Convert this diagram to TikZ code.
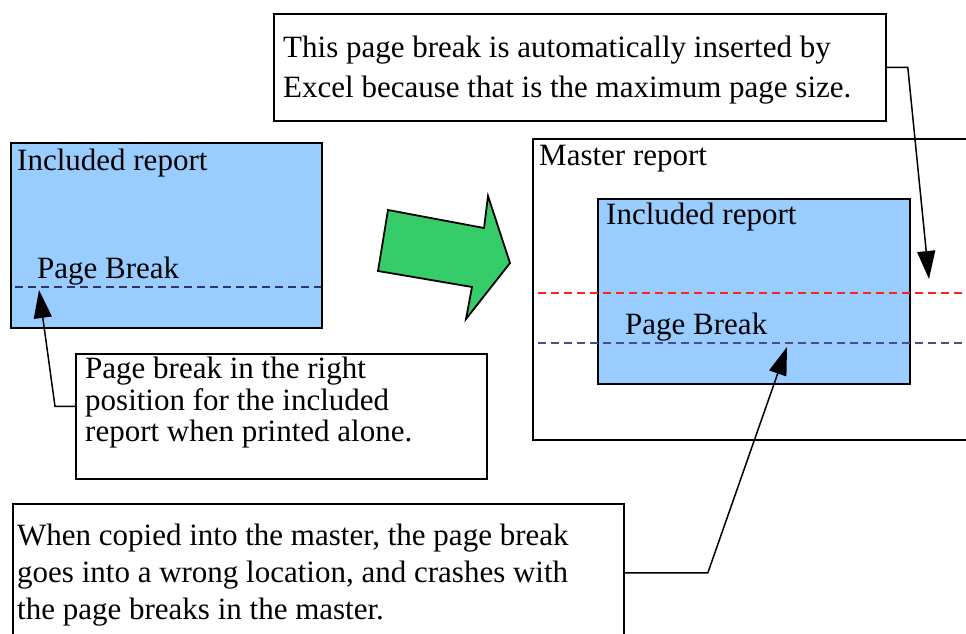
\documentclass[tikz,border=0pt]{standalone}
\usepackage{fontspec}
\setmainfont{Liberation Serif}
\usepackage{xcolor}
\usetikzlibrary{arrows.meta}
\definecolor{repblue}{HTML}{99CCFF}
\definecolor{arrowgreen}{HTML}{35CC69}
\definecolor{breakdark}{HTML}{333366}
\definecolor{breakmid}{HTML}{4C4C88}
\definecolor{breakred}{HTML}{FF2020}

\begin{document}
\begin{tikzpicture}[x=1pt,y=-1pt,
  box/.style={draw,line width=1.8pt,anchor=north west,inner sep=0pt},
  report/.style={box,fill=repblue},
  note/.style={box,fill=white},
  txt/.style={inner sep=0pt,font=\fontsize{31}{36}\selectfont},
  para/.style={txt,anchor=north west,align=left},
  pagebreak/.style={line width=1.8pt,dash pattern=on 8pt off 5pt},
  pointer/.style={line width=1.5pt,-{Triangle[length=28pt,width=18pt]}}]
  \useasboundingbox (0,0) rectangle (966,634);
  \clip (0,0) rectangle (966,634);

  \node[note,minimum width=612pt,minimum height=107pt] (note1) at (273,13) {};
  \node[para,font=\fontsize{31}{40}\selectfont] (text1) at (283,35.8)
    {This page break is automatically inserted by\\Excel because that is the maximum page size.};

  \node[report,minimum width=311pt,minimum height=185pt] (report1) at (10,142) {};
  \node[txt,anchor=base west] (title1) at (17,170) {Included report};
  \coordinate (break1a) at (15,287);
  \coordinate (break1b) at (321,287);
  \draw[pagebreak,breakdark] (break1a) -- (break1b);
  \node[txt,anchor=base west] (label1) at (37,278) {Page Break};

  \node[note,minimum width=411pt,minimum height=125pt] (note2) at (75,353) {};
  \node[para,font=\fontsize{31}{31.5}\selectfont] (text2) at (85,356.8)
    {Page break in the right\\position for the included\\report when printed alone.};

  \draw[line width=1.8pt,fill=arrowgreen] (388,210) -- (484,228) -- (488,196)
    -- (510,263) -- (466,319) -- (472,287) -- (378,271) -- cycle;

  \node[box,minimum width=500pt,minimum height=301pt] (master) at (532,138) {};
  \node[txt,anchor=base west] (title3) at (539,165) {Master report};
  \node[report,minimum width=312pt,minimum height=185pt] (report2) at (597,198) {};
  \node[txt,anchor=base west] (title2) at (606,224) {Included report};
  \coordinate (break2a) at (538,293);
  \coordinate (break2b) at (1000,293);
  \coordinate (break3a) at (538,343);
  \coordinate (break3b) at (1000,343);
  \draw[pagebreak,breakred] (break2a) -- (break2b);
  \draw[pagebreak,breakmid] (break3a) -- (break3b);
  \node[txt,anchor=base west] (label2) at (625,334) {Page Break};

  \node[note,minimum width=611pt,minimum height=138pt] (note3) at (12,503) {};
  \node[para,font=\fontsize{31}{37}\selectfont] (text3) at (17,523.8)
    {When copied into the master, the page break\\goes into a wrong location, and crashes with\\the page breaks in the master.};

  \coordinate (tip1) at (929,279);
  \coordinate (tip2) at (39,290);
  \coordinate (tip3) at (787,347);
  \draw[pointer] (note1.east) -- ++(21,0) -- (tip1);
  \draw[pointer] ([yshift=10pt]note2.west) -- ++(-20,0) -- (tip2);
  \draw[pointer] (note3.east) -- ++(83,0) -- (tip3);
\end{tikzpicture}
\end{document}
